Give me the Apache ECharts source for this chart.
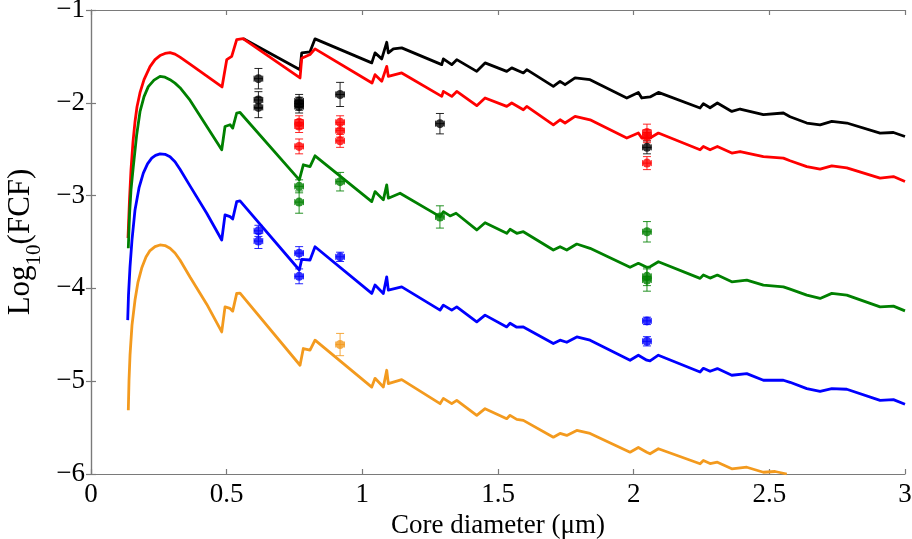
<!DOCTYPE html>
<html><head><meta charset="utf-8">
<script src="https://cdn.jsdelivr.net/npm/echarts@6/dist/echarts.min.js"></script>
<style>html,body{margin:0;padding:0;background:#fff}#c{width:912px;height:539px}</style>
</head><body><div id="c"></div>
<script>
// Axis ticks
const xTicks = [0, 0.5, 1, 1.5, 2, 2.5, 3];
const yTicks = [-6, -5, -4, -3, -2, -1];

// Model curves [core diameter (um), log10(FCF)]
const redCurve = [
 [0.1364,-3.457],[0.1419,-3.046],[0.1474,-2.722],[0.1548,-2.42],[0.1622,-2.204],[0.1696,-2.042],[0.1806,-1.891],
 [0.1954,-1.751],[0.2175,-1.61],[0.2359,-1.535],[0.2543,-1.491],[0.2728,-1.468],[0.2912,-1.459],[0.3096,-1.475],
 [0.328,-1.508],[0.3649,-1.583],
 [0.4829,-1.829],[0.5002,-1.535],[0.5186,-1.499],[0.5245,-1.502],[0.537,-1.319],[0.5603,-1.308],
 [0.7704,-1.732],[0.7766,-1.52],[0.8072,-1.48],[0.8257,-1.419],
 [1.0358,-1.786],[1.0468,-1.697],[1.0715,-1.769],[1.0899,-1.607],[1.0958,-1.715],[1.1452,-1.678],
 [1.2927,-1.931],[1.2986,-1.877],[1.3295,-1.931],[1.348,-1.877],[1.4217,-2.031],[1.4523,-1.948],
 [1.5322,-2.039],[1.5507,-2.002],[1.5934,-2.075],[1.606,-2.039],[1.704,-2.237],[1.7287,-2.183],
 [1.7471,-2.218],[1.784,-2.147],[1.8393,-2.183],[1.9746,-2.38],[2.0173,-2.326],[2.0298,-2.38],
 [2.0604,-2.38],[2.0911,-2.326],[2.2447,-2.506],[2.2569,-2.471],[2.2816,-2.506],[2.3085,-2.471],
 [2.3616,-2.542],[2.3922,-2.525],[2.4781,-2.579],[2.5518,-2.596],[2.5765,-2.625],[2.6381,-2.687],
 [2.6871,-2.715],[2.7302,-2.679],[2.7855,-2.701],[2.9082,-2.812],[2.9573,-2.795],[3.0,-2.849]
];
const blackCurve = [
 [0.5603,-1.308],[0.7704,-1.643],[0.7766,-1.462],[0.8072,-1.451],[0.8257,-1.311],
 [1.0347,-1.57],[1.0468,-1.462],[1.0715,-1.527],[1.0899,-1.348],[1.0958,-1.462],[1.1143,-1.419],[1.1452,-1.408],
 [1.2927,-1.589],[1.2986,-1.527],[1.3295,-1.589],[1.348,-1.535],[1.4217,-1.661],[1.4523,-1.57],
 [1.5322,-1.661],[1.5507,-1.624],[1.5934,-1.678],[1.606,-1.643],[1.704,-1.823],[1.7287,-1.769],
 [1.7471,-1.805],[1.784,-1.732],[1.8393,-1.751],[1.9746,-1.948],[2.0173,-1.888],[2.0298,-1.948],
 [2.0604,-1.937],[2.0911,-1.888],[2.2447,-2.056],[2.2569,-2.01],[2.2816,-2.053],[2.3085,-2.002],
 [2.3616,-2.093],[2.3922,-2.067],[2.4781,-2.128],[2.5518,-2.11],[2.5765,-2.15],[2.6381,-2.218],
 [2.6871,-2.237],[2.7302,-2.201],[2.7855,-2.218],[2.9082,-2.326],[2.9573,-2.32],[3.0,-2.363]
];
const greenCurve = [
 [0.1375,-3.568],[0.1419,-3.208],[0.1474,-2.938],[0.1559,-2.687],[0.1684,-2.344],[0.1806,-2.096],[0.1954,-1.934],
 [0.2112,-1.826],[0.2322,-1.756],[0.2543,-1.715],[0.2728,-1.724],[0.2912,-1.751],[0.3096,-1.788],[0.328,-1.837],
 [0.3649,-1.972],
 [0.4818,-2.506],[0.4939,-2.255],[0.5124,-2.236],[0.5223,-2.272],[0.537,-2.11],[0.5492,-2.104],
 [0.7678,-2.83],[0.7825,-2.668],[0.8072,-2.687],[0.8257,-2.571],
 [1.0347,-3.065],[1.0468,-2.957],[1.0774,-3.046],[1.0899,-2.884],[1.0958,-3.028],[1.139,-2.974],
 [1.2864,-3.227],[1.2986,-3.173],[1.3233,-3.219],[1.3454,-3.19],[1.4217,-3.37],[1.4523,-3.292],
 [1.5322,-3.406],[1.5444,-3.363],[1.5691,-3.406],[1.5934,-3.389],[1.704,-3.586],[1.7287,-3.551],
 [1.7534,-3.586],[1.7903,-3.522],[1.8393,-3.568],[1.9867,-3.773],[2.0173,-3.73],[2.0483,-3.773],
 [2.0604,-3.767],[2.0911,-3.713],[2.2447,-3.892],[2.2569,-3.856],[2.2816,-3.889],[2.3085,-3.856],
 [2.3616,-3.929],[2.4169,-3.91],[2.4781,-3.964],[2.5518,-3.983],[2.5765,-4.008],[2.6381,-4.072],
 [2.6871,-4.108],[2.7302,-4.054],[2.7855,-4.072],[2.9082,-4.199],[2.9573,-4.191],[3.0,-4.242]
];
const blueCurve = [
 [0.1353,-4.342],[0.1382,-4.072],[0.1438,-3.767],[0.1511,-3.478],[0.1622,-3.154],[0.1769,-2.917],[0.1928,-2.758],
 [0.2083,-2.658],[0.2237,-2.596],[0.2377,-2.566],[0.2543,-2.55],[0.2728,-2.555],[0.2912,-2.582],[0.3096,-2.636],
 [0.328,-2.717],[0.3649,-2.895],[0.4265,-3.19],
 [0.4818,-3.478],[0.4939,-3.208],[0.5124,-3.227],[0.5223,-3.252],[0.537,-3.065],[0.5492,-3.057],
 [0.7678,-3.802],[0.7766,-3.687],[0.8072,-3.694],[0.8257,-3.551],
 [1.0347,-4.054],[1.0468,-3.964],[1.0774,-4.054],[1.0899,-3.875],[1.0958,-4.018],[1.1452,-3.983],
 [1.2864,-4.234],[1.2986,-4.18],[1.3295,-4.234],[1.348,-4.199],[1.4217,-4.361],[1.4523,-4.288],
 [1.5322,-4.415],[1.5444,-4.375],[1.5691,-4.418],[1.5934,-4.415],[1.704,-4.594],[1.7287,-4.558],
 [1.7534,-4.58],[1.7903,-4.523],[1.8393,-4.558],[1.9867,-4.774],[2.0173,-4.72],[2.0483,-4.774],
 [2.0604,-4.782],[2.0911,-4.72],[2.2447,-4.901],[2.2569,-4.861],[2.2816,-4.893],[2.3085,-4.864],
 [2.3616,-4.936],[2.4169,-4.918],[2.4781,-4.99],[2.5518,-4.99],[2.5765,-5.012],[2.6381,-5.08],
 [2.6871,-5.109],[2.7302,-5.08],[2.7855,-5.087],[2.9082,-5.206],[2.9573,-5.199],[3.0,-5.249]
];
const orangeCurve = [
 [0.1375,-5.314],[0.1401,-4.99],[0.1438,-4.72],[0.1511,-4.396],[0.1622,-4.126],[0.1732,-3.932],[0.1869,-3.781],
 [0.2027,-3.662],[0.2175,-3.592],[0.2359,-3.549],[0.2543,-3.532],[0.2728,-3.538],[0.2912,-3.568],[0.3096,-3.619],
 [0.328,-3.694],[0.3649,-3.878],[0.4265,-4.17],
 [0.4818,-4.469],[0.4939,-4.199],[0.5124,-4.216],[0.5223,-4.245],[0.537,-4.054],[0.5492,-4.051],
 [0.7704,-4.828],[0.7825,-4.648],[0.8072,-4.666],[0.8257,-4.558],
 [1.0347,-5.063],[1.0468,-4.969],[1.0774,-5.063],[1.0899,-4.882],[1.0958,-5.026],[1.1452,-4.983],
 [1.2864,-5.242],[1.2986,-5.185],[1.3295,-5.242],[1.348,-5.206],[1.4217,-5.368],[1.4523,-5.296],
 [1.5322,-5.404],[1.5444,-5.368],[1.5691,-5.411],[1.5934,-5.422],[1.704,-5.603],[1.7287,-5.563],
 [1.7534,-5.584],[1.7903,-5.53],[1.8393,-5.563],[1.9867,-5.765],[2.0173,-5.714],[2.0483,-5.765],
 [2.0604,-5.782],[2.0911,-5.728],[2.2447,-5.89],[2.2569,-5.854],[2.2816,-5.887],[2.3085,-5.873],
 [2.3616,-5.944],[2.4169,-5.927],[2.4781,-5.981],[2.5211,-5.973],[2.5643,-6.0]
];

// Measured points [x, y, yErr, xErr]
const blackPts = [[0.617,-1.74,0.11,0.016],[0.617,-1.97,0.09,0.016],[0.617,-2.05,0.11,0.016],
 [0.767,-1.98,0.07,0.016],[0.767,-2.01,0.07,0.016],[0.767,-2.04,0.07,0.016],
 [0.918,-1.91,0.13,0.016],[1.286,-2.225,0.11,0.016],[2.049,-2.48,0.07,0.016]];
const redPts = [[0.767,-2.21,0.07,0.016],[0.767,-2.25,0.07,0.016],[0.767,-2.47,0.08,0.016],
 [0.918,-2.21,0.07,0.016],[0.918,-2.30,0.07,0.016],[0.918,-2.41,0.07,0.016],
 [2.049,-2.32,0.09,0.016],[2.049,-2.36,0.07,0.016],[2.049,-2.65,0.07,0.016]];
const greenPts = [[0.767,-2.90,0.07,0.016],[0.767,-3.07,0.12,0.016],[0.918,-2.85,0.1,0.016],
 [1.286,-3.23,0.12,0.016],[2.049,-3.39,0.11,0.016],[2.049,-3.87,0.1,0.016],[2.049,-3.91,0.12,0.016]];
const bluePts = [[0.617,-3.38,0.06,0.016],[0.617,-3.49,0.08,0.016],[0.767,-3.62,0.07,0.016],
 [0.767,-3.87,0.08,0.016],[0.918,-3.66,0.05,0.016],[2.049,-4.35,0.04,0.016],[2.049,-4.57,0.05,0.016]];
const orangePts = [[0.918,-4.605,0.12,0.016]];

const colors = {black:'#000000', red:'#ff0000', green:'#008000', blue:'#0000ff', orange:'#f39a1e'};
const FONT = 'Liberation Serif';

function lineSeries(data, color){
  return {type:'line', data, showSymbol:false, symbol:'none', animation:false,
    lineStyle:{color, width:2.8, join:'round'}, z:2};
}
function errSeries(data, color){
  return {type:'custom', data, z:3, animation:false,
    renderItem(params, api){
      const x=api.value(0), y=api.value(1), e=api.value(2), ex=api.value(3);
      const t=api.coord([x,y+e]), b=api.coord([x,y-e]);
      const l=api.coord([x-ex,y]), r=api.coord([x+ex,y]);
      const st={stroke:color, lineWidth:1, opacity:0.85};
      const cw=4;
      return {type:'group', children:[
        {type:'line', shape:{x1:t[0],y1:t[1],x2:b[0],y2:b[1]}, style:st},
        {type:'line', shape:{x1:t[0]-cw,y1:t[1],x2:t[0]+cw,y2:t[1]}, style:st},
        {type:'line', shape:{x1:b[0]-cw,y1:b[1],x2:b[0]+cw,y2:b[1]}, style:st},
        {type:'line', shape:{x1:l[0],y1:l[1],x2:r[0],y2:r[1]}, style:st},
        {type:'line', shape:{x1:l[0],y1:l[1]-3,x2:l[0],y2:l[1]+3}, style:st},
        {type:'line', shape:{x1:r[0],y1:r[1]-3,x2:r[0],y2:r[1]+3}, style:st}
      ]};
    }};
}
function ptSeries(data, color){
  return {type:'scatter', data:data.map(d=>[d[0],d[1]]), symbol:'circle', symbolSize:9,
    itemStyle:{color}, z:4, animation:false};
}
const fmtNum = v => (v<0 ? '\u2212'+Math.abs(v) : String(v));
const axisLineStyle = {color:'#7a7a7a', width:1.2};

const chart = echarts.init(document.getElementById('c'), null, {renderer:'canvas'});
chart.setOption({
  backgroundColor:'#ffffff',
  animation:false,
  grid:{left:91, right:7, top:10, bottom:65, outerBoundsMode:'none', containLabel:false},
  xAxis:[
    {type:'value', min:xTicks[0], max:xTicks[xTicks.length-1], interval:0.5, position:'bottom',
     axisLine:{show:true, lineStyle:axisLineStyle}, axisTick:{show:true, inside:true, length:5, lineStyle:axisLineStyle},
     splitLine:{show:false},
     axisLabel:{formatter:fmtNum, fontFamily:FONT, fontSize:27, color:'#000', margin:7},
     name:'Core diameter (\u03bcm)', nameLocation:'middle', nameGap:36,
     nameTextStyle:{fontFamily:FONT, fontSize:27, color:'#000'}},
    {type:'value', min:xTicks[0], max:xTicks[xTicks.length-1], interval:0.5, position:'top',
     axisLine:{show:true, lineStyle:axisLineStyle}, axisTick:{show:true, inside:true, length:5, lineStyle:axisLineStyle},
     splitLine:{show:false}, axisLabel:{show:false}}
  ],
  yAxis:[
    {type:'value', min:yTicks[0], max:yTicks[yTicks.length-1], interval:1, position:'left',
     axisLine:{show:true, lineStyle:axisLineStyle}, axisTick:{show:true, inside:true, length:5, lineStyle:axisLineStyle},
     splitLine:{show:false},
     axisLabel:{formatter:fmtNum, fontFamily:FONT, fontSize:27, color:'#000', margin:6},
     name:'{a|Log}{s|10}{a|(FCF)}', nameLocation:'middle', nameGap:50, nameRotate:90,
     nameTextStyle:{fontFamily:FONT, color:'#000',
       rich:{a:{fontFamily:FONT, fontSize:31, color:'#000', lineHeight:36, verticalAlign:'bottom'},
             s:{fontFamily:FONT, fontSize:21, color:'#000', lineHeight:28, verticalAlign:'bottom', padding:[0,0,-9,0]}}}},
    {type:'value', min:yTicks[0], max:yTicks[yTicks.length-1], interval:1, position:'right',
     axisLine:{show:true, lineStyle:axisLineStyle}, axisTick:{show:true, inside:true, length:5, lineStyle:axisLineStyle},
     splitLine:{show:false}, axisLabel:{show:false}}
  ],
  series:[
    lineSeries(blackCurve, colors.black),
    lineSeries(redCurve, colors.red),
    lineSeries(greenCurve, colors.green),
    lineSeries(blueCurve, colors.blue),
    lineSeries(orangeCurve, colors.orange),
    errSeries(blackPts, colors.black), ptSeries(blackPts, colors.black),
    errSeries(redPts, colors.red), ptSeries(redPts, colors.red),
    errSeries(greenPts, colors.green), ptSeries(greenPts, colors.green),
    errSeries(bluePts, colors.blue), ptSeries(bluePts, colors.blue),
    errSeries(orangePts, colors.orange), ptSeries(orangePts, colors.orange)
  ]
});
</script></body></html>
